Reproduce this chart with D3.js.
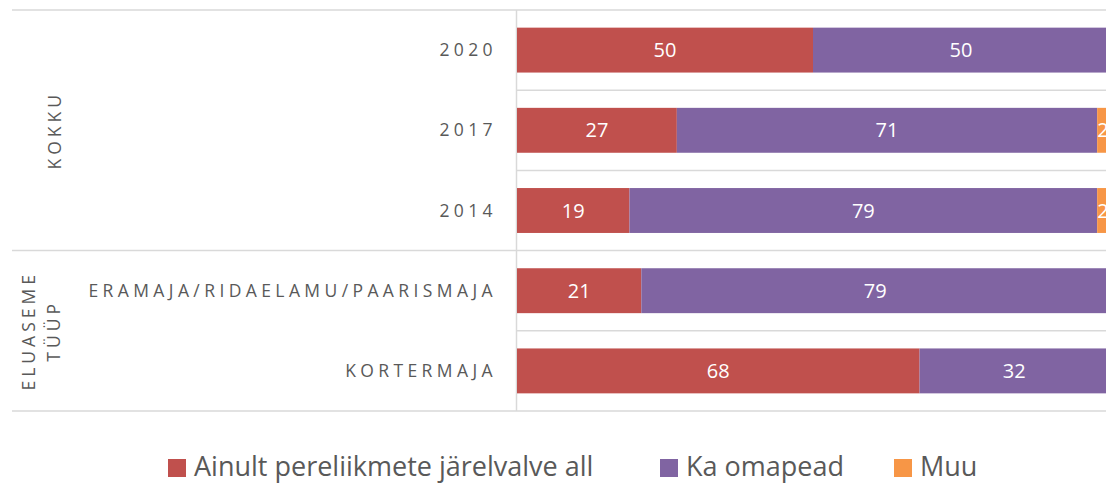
<!DOCTYPE html>
<html lang="et">
<head>
<meta charset="UTF-8">
<title>Järelvalve</title>
<style>
  body { margin: 0; background: #fff; }
  svg  { display: block; font-family: "Open Sans", sans-serif; }
  .cat { fill: #595959; font-size: 17.5px; letter-spacing: 4.4px; }
  .grp { fill: #595959; font-size: 17.5px; letter-spacing: 4px; }
  .val { fill: #fff; font-size: 20px; }
  .leg { fill: #595959; font-size: 27px; }
  .grid { stroke: #d9d9d9; stroke-width: 1.5; }
</style>
</head>
<body>
<svg id="chart" width="1106" height="484"></svg>
<script src="https://d3js.org/d3.v7.min.js"></script>
<script>
  // ---- data ----
  const categories = ["2020", "2017", "2014", "ERAMAJA/RIDAELAMU/PAARISMAJA", "KORTERMAJA"];
  const seriesNames = ["Ainult pereliikmete järelvalve all", "Ka omapead", "Muu"];
  const ainult  = [50, 27, 19, 21, 68];
  const omapead = [50, 71, 79, 79, 32];
  const muu     = [0, 2, 2, 0, 0];
  const groups = [
    { lines: ["KOKKU"], from: 0, to: 3 },
    { lines: ["ELUASEME", "TÜÜP"], from: 3, to: 5 }
  ];
  const colors = ["#C0504D", "#8064A2", "#F79646"];

  const rows = categories.map((c, i) => ({ cat: c, vals: [ainult[i], omapead[i], muu[i]] }));

  const svg = d3.select("#chart");
  const plotLeft = 517, plotTop = 10, plotBottom = 411;

  const x = d3.scaleLinear().domain([0, 100]).range([plotLeft, 1109]);
  const y = d3.scaleBand().domain(categories).range([plotTop, plotBottom])
              .paddingInner(0.44).paddingOuter(0.22);
  const step = y.step();

  // separators
  for (let i = 0; i <= categories.length; i++) {
    const isGroup = groups.some(g => g.from === i || g.to === i);
    svg.append("line").attr("class", "grid")
      .attr("x1", isGroup ? 12 : plotLeft).attr("x2", 1106)
      .attr("y1", plotTop + i * step).attr("y2", plotTop + i * step);
  }
  svg.append("line").attr("class", "grid")
    .attr("x1", plotLeft - 0.5).attr("x2", plotLeft - 0.5)
    .attr("y1", plotTop).attr("y2", plotBottom);

  // stacked bars
  rows.forEach(r => {
    let acc = 0;
    r.vals.forEach((v, k) => {
      if (v <= 0) return;
      const x0 = x(acc), x1 = x(acc + v);
      svg.append("rect")
        .attr("x", x0).attr("y", y(r.cat))
        .attr("width", x1 - x0).attr("height", y.bandwidth())
        .attr("fill", colors[k]);
      svg.append("text").attr("class", "val")
        .attr("x", (x0 + x1) / 2).attr("y", y(r.cat) + y.bandwidth() / 2)
        .attr("text-anchor", "middle").attr("dy", "0.35em")
        .text(v);
      acc += v;
    });
  });

  // category labels
  svg.selectAll("text.cat").data(categories).enter().append("text")
    .attr("class", "cat")
    .attr("x", 497).attr("y", d => y(d) + y.bandwidth() / 2)
    .attr("text-anchor", "end").attr("dy", "0.35em")
    .text(d => d);

  // group labels (rotated)
  groups.forEach(g => {
    const cy = plotTop + (g.from + g.to) / 2 * step;
    const n = g.lines.length;
    g.lines.forEach((t, j) => {
      const cx = n === 1 ? 55 : 29 + j * 25;
      svg.append("text").attr("class", "grp")
        .attr("transform", `translate(${cx},${cy}) rotate(-90)`)
        .attr("text-anchor", "middle").attr("dy", "0.35em")
        .text(t);
    });
  });

  // legend
  const legX = [168, 660, 894];
  seriesNames.forEach((s, k) => {
    svg.append("rect").attr("x", legX[k]).attr("y", 459)
      .attr("width", 18).attr("height", 18).attr("fill", colors[k]);
    svg.append("text").attr("class", "leg")
      .attr("x", legX[k] + 26).attr("y", 476)
      .text(s);
  });
</script>
</body>
</html>
